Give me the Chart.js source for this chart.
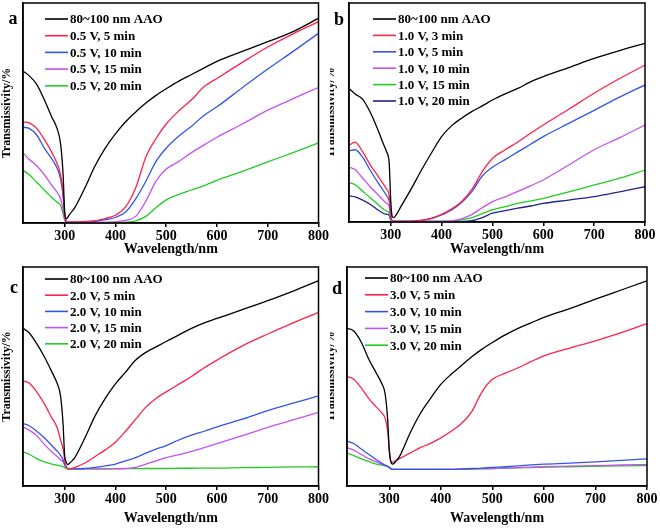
<!DOCTYPE html>
<html>
<head>
<meta charset="utf-8">
<script src="https://cdn.jsdelivr.net/npm/chart.js@4.4.0/dist/chart.umd.min.js"></script>
<style>
body { margin: 0; background: #fff; }
#wrap { position: relative; width: 660px; height: 528px; }
.panel { position: absolute; width: 330px; height: 264px; }
</style>
</head>
<body>
<div id="wrap">
  <div class="panel" style="left:0;top:0"><canvas id="chartA" width="330" height="264"></canvas></div>
  <div class="panel" style="left:330px;top:0"><canvas id="chartB" width="330" height="264"></canvas></div>
  <div class="panel" style="left:0;top:264px"><canvas id="chartC" width="330" height="264"></canvas></div>
  <div class="panel" style="left:330px;top:264px"><canvas id="chartD" width="330" height="264"></canvas></div>
</div>
<script>
// wavelength grid (nm) shared by all panels
const wl = [218, 230, 245, 260, 275, 285, 292, 297, 300, 303, 306, 310, 320, 340, 360, 380, 400, 420, 440, 460, 480, 500, 525, 550, 575, 600, 650, 700, 750, 800];
const xTicks = [300, 400, 500, 600, 700, 800];

// panel a : 0.5 V
const aLabels = ["80~100 nm AAO", "0.5 V, 5 min", "0.5 V, 10 min", "0.5 V, 15 min", "0.5 V, 20 min"];
const a_aao = [69, 67, 63, 56, 48, 43, 36, 22, 5, 2, 2.5, 4, 7, 16, 26, 34, 40.5, 46, 50.5, 54.5, 58, 61, 64.5, 67.5, 70.5, 73.5, 78, 82.4, 87, 93];
const a_5 = [46, 45.5, 43, 38, 32, 27, 22, 14, 5, 1, 0.5, 0.5, 0.5, 0.7, 1, 2, 3.5, 7.3, 16, 30, 38.4, 45, 51, 56, 62, 65.7, 73, 80, 86, 91.5];
const a_10 = [43.5, 43, 40, 34, 29, 25, 20, 12, 4, 0.5, 0.3, 0.3, 0.3, 0.5, 0.8, 1.5, 2.5, 5, 11, 19, 28, 34, 39.5, 44, 49, 52.8, 61.5, 70, 78, 86.2];
const a_15 = [32, 29, 26, 22, 17, 14, 11, 6, 2, 0.3, 0.3, 0.3, 0.3, 0.3, 0.3, 0.3, 0.5, 1.2, 3, 10, 19, 24.5, 28, 32, 35.5, 39, 45, 51.3, 56.5, 61.6];
const a_20 = [24, 22, 18.5, 15, 11.5, 9.5, 8, 4, 1.5, 0.3, 0.3, 0.3, 0.3, 0.3, 0.3, 0.3, 0.3, 0.4, 1, 3, 7, 10.5, 13, 15, 17, 19.4, 23.5, 27.8, 32, 36.4];

// panel b : 1.0 V
const bLabels = ["80~100 nm AAO", "1.0 V, 3 min", "1.0 V, 5 min", "1.0 V, 10 min", "1.0 V, 15 min", "1.0 V, 20 min"];
const b_aao = [61, 58.5, 56, 50, 42, 36, 32, 27, 10, 2.5, 2, 3, 7, 15, 23.5, 31.5, 39, 44, 47.5, 50.5, 53, 55.7, 58.5, 61, 64, 66.4, 70.5, 74.7, 78.3, 81.6];
const b_3 = [35, 36.5, 32, 26, 21, 17.5, 15, 12, 4, 0.5, 0.3, 0.3, 0.3, 0.3, 0.8, 1.8, 3.5, 6, 9.5, 15, 23, 29, 33, 36.5, 40.5, 44.3, 51.5, 58.8, 65.5, 71.7];
const b_5 = [32.5, 33, 29.5, 23.5, 18, 14.5, 12, 9.5, 3, 0.3, 0.3, 0.3, 0.3, 0.3, 0.6, 1.5, 3.2, 5.5, 9, 14, 21, 25, 28.5, 32, 35.5, 39, 45, 51, 57, 62.6];
const b_10 = [25, 24, 20, 16, 12.5, 10, 8.5, 7, 2, 0.3, 0.3, 0.3, 0.3, 0.3, 0.3, 0.3, 0.3, 0.5, 1.5, 3.5, 6.5, 9.3, 11.5, 14, 16.5, 19.2, 26, 33, 38.5, 44.3];
const b_15 = [18, 17, 14, 11, 8, 6, 5, 4, 1.5, 0.3, 0.3, 0.3, 0.3, 0.3, 0.3, 0.3, 0.3, 0.4, 1, 2, 3.8, 5.5, 7, 8.5, 9.6, 10.8, 13.8, 16.9, 20, 23.7];
const b_20 = [12, 11.5, 10, 8, 5.5, 4, 3.5, 3, 1, 0.3, 0.3, 0.3, 0.3, 0.3, 0.3, 0.3, 0.3, 0.3, 0.3, 0.6, 2, 4, 5.2, 6.3, 7.3, 8.5, 10, 11.6, 13.8, 16.1];

// panel c : 2.0 V
const cLabels = ["80~100 nm AAO", "2.0 V, 5 min", "2.0 V, 10 min", "2.0 V, 15 min", "2.0 V, 20 min"];
const c_aao = [72, 70, 65, 59, 52, 47, 41, 28, 14, 11, 9.8, 10.5, 13, 22, 32, 40, 46.6, 52, 57.5, 61, 63.5, 66, 69, 72, 74.5, 76.5, 80.5, 84.6, 89, 93.8];
const c_5 = [48, 47, 43, 37.5, 31, 26.8, 21, 17, 12, 9, 7.8, 7.8, 8.5, 10.5, 13.5, 16.5, 20, 25, 30.5, 36, 40, 43, 46.5, 50, 54, 57.5, 64, 69.4, 74.5, 79.3];
const c_10 = [28.5, 27.5, 25, 22, 18.4, 16, 14, 12, 10, 8.5, 8, 7.8, 7.8, 8, 8.5, 9.2, 10, 11.5, 13, 15, 16.8, 18.4, 21, 23.2, 25, 27, 30.5, 34.4, 37.8, 41.2];
const c_15 = [27, 25.5, 23, 19, 15.5, 13.5, 12, 11, 9.5, 8.5, 8, 7.8, 7.8, 7.8, 7.8, 7.8, 7.8, 8, 8.5, 10, 11.5, 13, 14.3, 15.8, 17.5, 19.3, 23, 26.8, 30.2, 33.6];
const c_20 = [15.5, 14.5, 12.5, 11, 10, 9.5, 9.2, 8.8, 8.5, 8, 7.8, 7.8, 7.8, 7.8, 7.8, 7.8, 7.9, 7.9, 7.9, 8, 8, 8, 8.1, 8.1, 8.2, 8.2, 8.4, 8.5, 8.7, 8.8];

// panel d : 3.0 V
const dLabels = ["80~100 nm AAO", "3.0 V, 5 min", "3.0 V, 10 min", "3.0 V, 15 min", "3.0 V, 20 min"];
const d_aao = [72, 71, 66, 58, 51.5, 47, 42, 30, 16, 11, 10, 10.5, 13.5, 24, 33, 40, 46.4, 51, 55, 59, 62.5, 65.5, 69, 72, 74.5, 77, 81, 85.3, 89.5, 93.7];
const d_5 = [50, 49, 45, 40, 36, 33.5, 31, 25, 17, 11.5, 10.8, 11.3, 12.5, 15, 17.5, 19.5, 22, 25, 28.5, 34, 43, 48.7, 51.5, 54, 56.8, 59.4, 63, 66.3, 70, 74.2];
const d_10 = [20.5, 19.5, 17, 14.5, 12, 10.5, 9.5, 9, 8.5, 8, 7.6, 7.6, 7.6, 7.6, 7.6, 7.6, 7.6, 7.6, 7.8, 8, 8.2, 8.5, 8.8, 9.2, 9.6, 10, 10.4, 11, 11.7, 12.4];
const d_15 = [17.5, 16.5, 14.5, 12.5, 11, 10, 9.3, 8.8, 8.5, 8, 7.6, 7.6, 7.6, 7.6, 7.6, 7.6, 7.6, 7.6, 7.7, 7.8, 7.9, 8, 8.2, 8.4, 8.6, 8.8, 9.1, 9.3, 9.6, 9.8];
const d_20 = [15, 14, 12.5, 11.2, 10, 9.5, 9.2, 8.8, 8.3, 7.8, 7.6, 7.6, 7.6, 7.6, 7.6, 7.6, 7.6, 7.6, 7.6, 7.7, 7.8, 7.9, 8.1, 8.3, 8.4, 8.6, 8.8, 9, 9.2, 9.3];

const BLACK = '#000000', RED = '#ff2246', BLUE = '#3355e6', MAG = '#c850f0', GREEN = '#22cc22', NAVY = '#22228f';
const FONT = '"Liberation Serif", "Times New Roman", serif';

// frame, inner legend and panel letter
const panelDecor = {
  id: 'panelDecor',
  afterDraw(chart, args, o) {
    const ctx = chart.ctx, a = chart.chartArea;
    ctx.save();
    ctx.strokeStyle = '#000';
    ctx.lineWidth = 1.5;
    ctx.strokeRect(a.left, a.top, a.right - a.left, a.bottom - a.top);
    ctx.font = 'bold 13px ' + FONT;
    ctx.textBaseline = 'middle';
    chart.data.datasets.forEach(function (ds, i) {
      const y = o.legY + i * o.gap;
      ctx.strokeStyle = ds.borderColor;
      ctx.lineWidth = 1.6;
      ctx.beginPath();
      ctx.moveTo(o.legX, y);
      ctx.lineTo(o.legX + 23, y);
      ctx.stroke();
      ctx.fillStyle = '#000';
      ctx.fillText(ds.label, o.legX + 25, y + 1);
    });
    ctx.font = 'bold 18px ' + FONT;
    ctx.textAlign = 'center';
    ctx.fillText(o.letter, o.letX, o.letY);
    ctx.restore();
  }
};

function makePanel(id, labels, series, colors, box, deco) {
  const datasets = series.map(function (vals, i) {
    return {
      label: labels[i],
      data: vals.map(function (v, j) { return { x: wl[j], y: v }; }),
      borderColor: colors[i],
      borderWidth: 1.3,
      pointRadius: 0,
      cubicInterpolationMode: 'monotone'
    };
  });
  return new Chart(document.getElementById(id), {
    type: 'line',
    data: { datasets: datasets },
    plugins: [panelDecor],
    options: {
      responsive: false,
      animation: false,
      events: [],
      layout: { padding: { top: 3, right: 330 - box.right, left: 0, bottom: 0 } },
      plugins: {
        legend: { display: false },
        tooltip: { enabled: false },
        panelDecor: deco
      },
      scales: {
        x: {
          type: 'linear',
          min: 218,
          max: 800,
          afterBuildTicks: function (s) { s.ticks = xTicks.map(function (v) { return { value: v }; }); },
          afterFit: function (s) { s.height = 264 - box.bottom; },
          grid: { drawOnChartArea: false, drawTicks: true, tickLength: 4, color: '#000', lineWidth: 1.5 },
          border: { color: '#000', width: 1.5 },
          ticks: { color: '#000', padding: 1, font: { family: FONT, size: 14, weight: 'bold' } },
          title: { display: true, text: 'Wavelength/nm', color: '#000', padding: { top: 0, bottom: box.xPad }, font: { family: FONT, size: 14, weight: 'bold' } }
        },
        y: {
          min: 0,
          max: 100,
          afterFit: function (s) { s.width = box.left; },
          grid: { display: false },
          border: { color: '#000', width: 1.5 },
          ticks: { display: false },
          title: { display: true, text: 'Transmissivity/%', color: '#000', padding: { top: box.yPad, bottom: 0 }, font: { family: FONT, size: 12, weight: 'bold' } }
        }
      }
    }
  });
}

makePanel('chartA', aLabels, [a_aao, a_5, a_10, a_15, a_20], [BLACK, RED, BLUE, MAG, GREEN],
  { left: 23, right: 320, bottom: 223, xPad: 6, yPad: 0 },
  { legX: 45, legY: 19, gap: 16.7, letter: 'a', letX: 13, letY: 19 });
makePanel('chartB', bLabels, [b_aao, b_3, b_5, b_10, b_15, b_20], [BLACK, RED, BLUE, MAG, GREEN, NAVY],
  { left: 19, right: 315, bottom: 222, xPad: 6, yPad: -6 },
  { legX: 43, legY: 19, gap: 16.4, letter: 'b', letX: 9, letY: 20 });
makePanel('chartC', cLabels, [c_aao, c_5, c_10, c_15, c_20], [BLACK, RED, BLUE, MAG, GREEN],
  { left: 23, right: 320, bottom: 222, xPad: 1, yPad: 0 },
  { legX: 45, legY: 15, gap: 16.2, letter: 'c', letX: 14, letY: 24 });
makePanel('chartD', dLabels, [d_aao, d_5, d_10, d_15, d_20], [BLACK, RED, BLUE, MAG, GREEN],
  { left: 17, right: 317, bottom: 222, xPad: 1, yPad: -6 },
  { legX: 35, legY: 14, gap: 16.8, letter: 'd', letX: 7, letY: 25 });
</script>
</body>
</html>
